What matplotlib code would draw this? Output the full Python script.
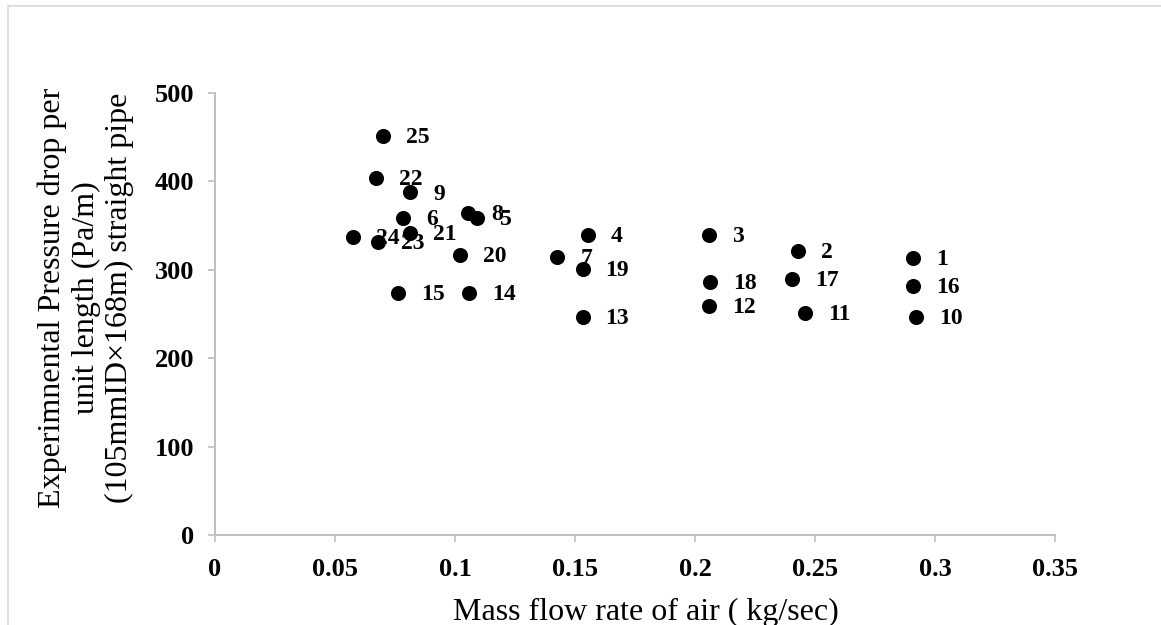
import matplotlib
matplotlib.use("Agg")
import matplotlib.pyplot as plt
from matplotlib.patches import Rectangle

plt.rcParams['font.family'] = ['Liberation Serif', 'DejaVu Serif']

# Run numbers, air mass flow rate (kg/s) and measured pressure drop (Pa/m)
run_ids = [1, 2, 3, 4, 5, 6, 7, 8, 9, 10, 11, 12, 13,
           14, 15, 16, 17, 18, 19, 20, 21, 22, 23, 24, 25]
mass_flow = [0.291, 0.243, 0.206, 0.1555, 0.109, 0.0785, 0.1426, 0.1055, 0.0813,
             0.292, 0.246, 0.206, 0.1532, 0.106, 0.0764, 0.291, 0.2404, 0.2063,
             0.1532, 0.1021, 0.0813, 0.0671, 0.0678, 0.0574, 0.0699]
pressure_drop = [313.8, 321.7, 339.5, 339.5, 358.4, 359.0, 314.3, 364.0, 387.7,
                 247.1, 251.6, 259.2, 247.1, 273.6, 274.3, 281.8, 289.4, 286.7,
                 301.0, 316.9, 341.4, 404.3, 331.9, 336.9, 451.4]

x_ticks = [0, 0.05, 0.1, 0.15, 0.2, 0.25, 0.3, 0.35]
x_tick_labels = ['0', '0.05', '0.1', '0.15', '0.2', '0.25', '0.3', '0.35']
y_ticks = [0, 100, 200, 300, 400, 500]

W, H, DPI = 1161, 625, 100
fig = plt.figure(figsize=(W / DPI, H / DPI), dpi=DPI)
ax = fig.add_axes([215 / W, 1 - 535.3 / H, 840 / W, 442.3 / H])

ax.scatter(mass_flow, pressure_drop, s=118, color='black', zorder=3,
           linewidths=0)
for n, x, y in zip(run_ids, mass_flow, pressure_drop):
    ax.annotate(str(n), (x, y), xytext=(16.5, -1.2), textcoords='offset points',
                ha='left', va='center', fontsize=17, fontweight='bold',
                color='black', zorder=4)

ax.set_xlim(0, 0.35)
ax.set_ylim(0, 500)
ax.set_xticks(x_ticks)
ax.set_xticklabels(x_tick_labels)
ax.set_yticks(y_ticks)

axis_grey = '#bfbfbf'
for side in ('top', 'right'):
    ax.spines[side].set_visible(False)
for side in ('left', 'bottom'):
    ax.spines[side].set_color(axis_grey)
    ax.spines[side].set_linewidth(1.4)

ax.tick_params(axis='both', direction='out', length=5, width=1.2,
               color=axis_grey, labelsize=19, labelcolor='black')
ax.tick_params(axis='x', pad=11)
ax.tick_params(axis='y', pad=10)
for lbl in ax.get_xticklabels() + ax.get_yticklabels():
    lbl.set_fontweight('bold')

# Axis titles
fig.text(645.5 / W, 1 - 620 / H, 'Mass flow rate of air ( kg/sec)',
         ha='center', va='baseline', fontsize=23)
fig.text(86 / W, 1 - 297.5 / H,
         'Experimnental Pressure drop per\nunit length (Pa/m)\n'
         '(105mmID\u00d7168m) straight pipe',
         rotation=90, ha='center', va='center', fontsize=23,
         multialignment='center', linespacing=1.2)

# Light outer frame around the chart area
fig.patches.append(Rectangle((8 / W, -0.05), 1.1, 1 - 6 / H + 0.05,
                             transform=fig.transFigure, fill=False,
                             edgecolor='#d9d9d9', linewidth=1.2))

fig.savefig('out.png', dpi=DPI)
